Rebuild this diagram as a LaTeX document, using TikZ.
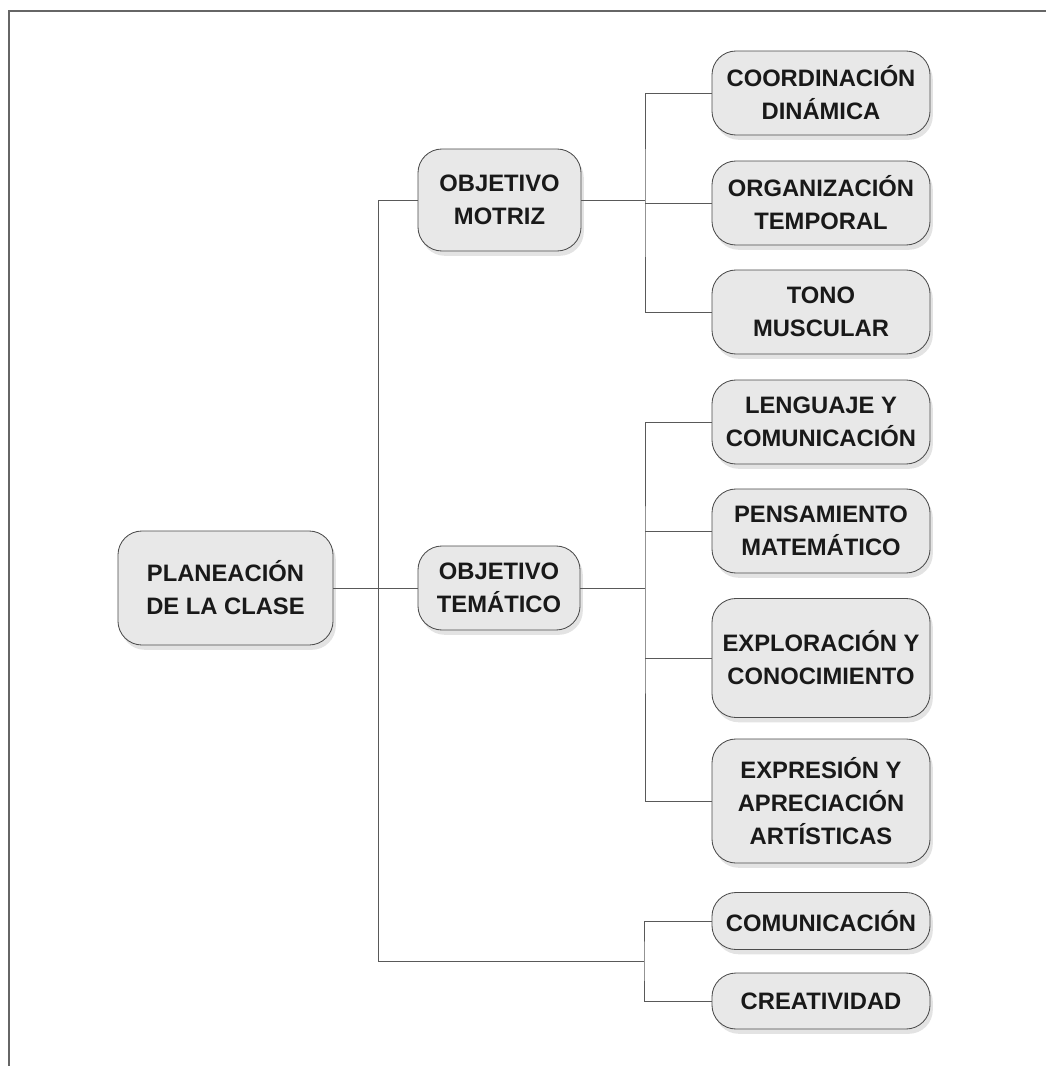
\documentclass[tikz,border=0pt]{standalone}
\usepackage{fontspec}
\setmainfont{Liberation Sans}
\usetikzlibrary{shadows}

\begin{document}
\begin{tikzpicture}[x=0.025cm,y=-0.025cm,
  caja/.style={draw=black!70,line width=0.6pt,rounded corners=0.6cm,fill=black!9,
    drop shadow={opacity=0.22,shadow xshift=0.07cm,shadow yshift=-0.12cm},
    align=center,inner sep=0pt,text=black!90,
    font=\fontsize{16.9}{23.4}\selectfont\bfseries},
  hoja/.style={caja,minimum width=5.45cm,minimum height=2.1cm},
  rama/.style={draw=black!65,line width=0.6pt}]
 \useasboundingbox (0,0) rectangle (1046,1066);
 % marco
 \draw[black!60,line width=1pt] (9,1066) -- (9,11) -- (1046,11);
 % nodos
 \node[caja,minimum width=5.375cm,minimum height=2.85cm] (raiz) at (225.5,588) {PLANEACIÓN\\DE LA CLASE};
 \node[caja,minimum width=4.075cm,minimum height=2.55cm] (motriz) at (499.5,200) {OBJETIVO\\MOTRIZ};
 \node[caja,minimum width=4.05cm,minimum height=2.1cm] (tematico) at (499,588) {OBJETIVO\\TEMÁTICO};
 \node[hoja] (coord) at (821,93) {COORDINACIÓN\\DINÁMICA};
 \node[hoja] (organ) at (821,203) {ORGANIZACIÓN\\TEMPORAL};
 \node[hoja] (tono) at (821,312) {TONO\\MUSCULAR};
 \node[hoja] (lengua) at (821,422) {LENGUAJE Y\\COMUNICACIÓN};
 \node[hoja] (pensa) at (821,531) {PENSAMIENTO\\MATEMÁTICO};
 \node[hoja,minimum height=2.975cm] (explora) at (821,658) {EXPLORACIÓN Y\\CONOCIMIENTO};
 \node[hoja,minimum height=3.1cm] (expre) at (821,801) {EXPRESIÓN Y\\APRECIACIÓN\\ARTÍSTICAS};
 \node[hoja,minimum height=1.425cm] (comu) at (821,921) {COMUNICACIÓN};
 \node[hoja,minimum height=1.4cm] (crea) at (821,1001) {CREATIVIDAD};
 % ramas
 \coordinate (bm) at (645,203);
 \coordinate (bt) at (645,588);
 \coordinate (bc) at (644,961);
 \coordinate (tr) at (378,961);
 \draw[rama] (raiz.east) -- (tematico.west);
 \draw[rama] (motriz.west) -| (tr) -- (bc);
 \draw[rama] (coord.west) -| (bm) |- (tono.west);
 \draw[rama] (motriz.east) -- (motriz.east -| bm);
 \draw[rama] (organ.west) -- (organ.west -| bm);
 \draw[rama] (lengua.west) -| (bt) |- (expre.west);
 \draw[rama] (tematico.east) -- (bt);
 \draw[rama] (pensa.west) -- (pensa.west -| bt);
 \draw[rama] (explora.west) -- (explora.west -| bt);
 \draw[rama] (comu.west) -| (bc) |- (crea.west);
\end{tikzpicture}
\end{document}
